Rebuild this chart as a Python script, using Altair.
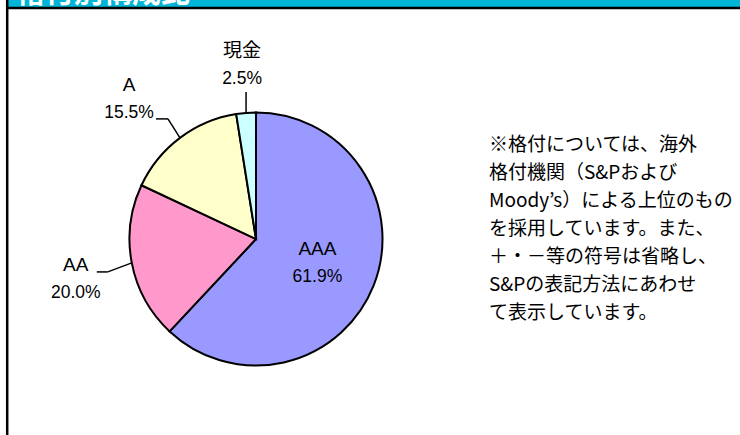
import altair as alt
import pandas as pd

# ---- data ----
categories = ["AAA", "AA", "A", "現金"]
values = [61.9, 20.0, 15.5, 2.5]
colors = ["#9999FF", "#FF99CC", "#FFFFCC", "#CCFFFF"]

note_lines = [
    "※格付については、海外",
    "格付機関（S&Pおよび",
    "Moody’s）による上位のもの",
    "を採用しています。また、",
    "＋・－等の符号は省略し、",
    "S&Pの表記方法にあわせ",
    "て表示しています。",
]
title_text = "格付別構成比"

# ---- layout ----
W, H = 740, 435
CX, CY, R = 256, 239, 126.5
LH = 27.5  # label line height

# label placement relative to the slice's mid-angle point at radius r
label_layout = {
    "AAA": {"r": 66, "dx": 0, "dy": 0, "leader": []},
    "AA": {"r": R, "dx": -56, "dy": 16, "leader": [(0, 0), (-24, 9), (-35, 9)]},
    "A": {"r": R, "dx": -51, "dy": -39, "leader": [(0, 0), (-12, -19), (-24, -19)]},
    "現金": {"r": R, "dx": -4, "dy": -48, "leader": [(0, 0), (0, -21)]},
}

LABEL_FONT = "Liberation Sans, Noto Sans CJK JP"
PCT_FONT = "Liberation Sans"
NOTE_FONT = "Noto Sans CJK JP"

df = pd.DataFrame({"category": categories, "value": values,
                   "order": list(range(len(categories)))})

base = alt.Chart(df).transform_window(
    cum="sum(value)", sort=[alt.SortField("order")], frame=[None, 0]
).transform_joinaggregate(total="sum(value)").transform_calculate(
    mid="(datum.cum - datum.value / 2) / datum.total * 2 * PI",
    pct="format(datum.value, '.1f') + '%'",
)

pie = alt.Chart(df).mark_arc(radius=R, stroke="black", strokeWidth=2).encode(
    x=alt.value(CX),
    y=alt.value(CY),
    theta=alt.Theta("value:Q", stack=True),
    color=alt.Color("category:N", scale=alt.Scale(domain=categories, range=colors), legend=None),
    order=alt.Order("order:Q"),
)

layers = [pie]

for cat, lay in label_layout.items():
    r, dx, dy = lay["r"], lay["dx"], lay["dy"]
    sel = base.transform_filter(alt.datum.category == cat).transform_calculate(
        lx=f"{CX} + {r} * sin(datum.mid) + {dx}",
        ly=f"{CY} - {r} * cos(datum.mid) + {dy}",
        ex=f"{CX} + {R} * sin(datum.mid)",
        ey=f"{CY} - {R} * cos(datum.mid)",
    )
    name = sel.transform_calculate(ny=f"datum.ly - {LH / 2}").mark_text(
        font=LABEL_FONT, fontSize=19, color="black", align="center", baseline="middle"
    ).encode(
        x=alt.X("lx:Q", scale=None, axis=None),
        y=alt.Y("ny:Q", scale=None, axis=None),
        text="category:N",
    )
    pct = sel.transform_calculate(py=f"datum.ly + {LH / 2}").mark_text(
        font=PCT_FONT, fontSize=17.5, color="black", align="center", baseline="middle"
    ).encode(
        x=alt.X("lx:Q", scale=None, axis=None),
        y=alt.Y("py:Q", scale=None, axis=None),
        text="pct:N",
    )
    layers += [name, pct]
    pts = lay["leader"]
    for p, q in zip(pts[:-1], pts[1:]):
        seg = sel.transform_calculate(
            ax=f"datum.ex + {p[0]}", ay=f"datum.ey + {p[1]}",
            bx=f"datum.ex + {q[0]}", by=f"datum.ey + {q[1]}",
        ).mark_rule(color="black", strokeWidth=1.5).encode(
            x=alt.X("ax:Q", scale=None, axis=None),
            y=alt.Y("ay:Q", scale=None, axis=None),
            x2="bx:Q",
            y2="by:Q",
        )
        layers.append(seg)

one = alt.Data(values=[{}])

note = alt.Chart(one).mark_text(
    font=NOTE_FONT, fontSize=19, color="black", align="left", baseline="middle",
    lineBreak="\n", lineHeight=28,
).encode(x=alt.value(489), y=alt.value(145), text=alt.value("\n".join(note_lines)))

title_bar = alt.Chart(one).mark_rect(color="#00B5D5").encode(
    x=alt.value(8), x2=alt.value(W), y=alt.value(0), y2=alt.value(7)
)
title = alt.Chart(one).mark_text(
    font="Noto Sans CJK JP", fontSize=29, fontWeight="bold", color="white",
    align="left", baseline="alphabetic", clip=True,
).encode(x=alt.value(16), y=alt.value(3), text=alt.value(title_text))
hline = alt.Chart(one).mark_rule(color="black", strokeWidth=2.5).encode(
    x=alt.value(6), x2=alt.value(W), y=alt.value(8)
)
vline = alt.Chart(one).mark_rule(color="black", strokeWidth=2.5).encode(
    x=alt.value(7.2), y=alt.value(0), y2=alt.value(H)
)

chart = alt.layer(title_bar, title, hline, vline, *layers, note).properties(
    width=W, height=H, padding=0, autosize="none", background="white"
).configure_view(stroke=None)

chart.save("out.html", embed_options={"renderer": "svg", "actions": False})
